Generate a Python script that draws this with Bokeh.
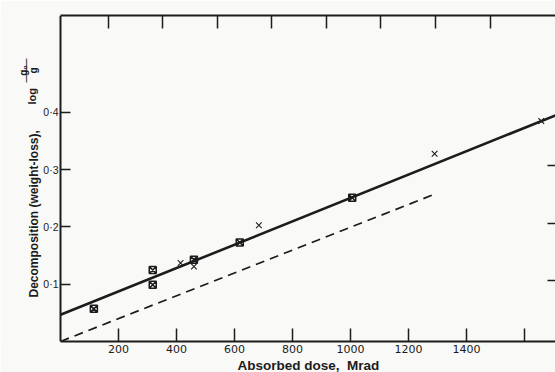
import math
from bokeh.plotting import figure
from bokeh.models import LinearAxis, FixedTicker, Label, Range1d, Title
from bokeh.embed import file_html
from bokeh.resources import INLINE

# ---- data ----
square_dose = [115, 318, 318, 460, 618, 1006]
square_decomp = [0.057, 0.125, 0.099, 0.143, 0.173, 0.251]

cross_dose = [414, 460, 684, 1290, 1658]
cross_decomp = [0.137, 0.131, 0.203, 0.328, 0.385]

solid_dose = [0, 1707]
solid_decomp = [0.0466, 0.395]

dashed_dose = [0, 1293]
dashed_decomp = [0.0, 0.258]

x_ticks = [200, 400, 600, 800, 1000, 1200, 1400]
x_unlabelled_ticks = [1600]
y_ticks = [0.1, 0.2, 0.3, 0.4]
y_tick_labels = {0.1: "0·1", 0.2: "0·2", 0.3: "0·3", 0.4: "0·4"}
top_ticks = [165, 352, 541, 728, 917, 1103, 1293, 1483]
right_ticks = [0.107, 0.206, 0.307]

X_MIN, X_MAX = -207, 1707
Y_MIN, Y_MAX = 0, 0.5694

INK = "#1c1c1c"
PAPER = "#f9f9f7"

p = figure(width=555, height=372,
           x_range=Range1d(X_MIN, X_MAX), y_range=Range1d(Y_MIN, Y_MAX),
           output_backend="svg", toolbar_location=None,
           min_border_left=0, min_border_right=0,
           min_border_top=15, min_border_bottom=31)
p.background_fill_color = PAPER
p.border_fill_color = PAPER
p.outline_line_color = None
p.xgrid.visible = False
p.ygrid.visible = False


def style_ticks(ax, tick_in):
    ax.major_tick_in = tick_in
    ax.major_tick_out = 0
    ax.minor_tick_line_color = None
    ax.major_tick_line_color = INK
    ax.major_tick_line_width = 1.5
    ax.axis_line_width = 2
    ax.axis_line_color = INK


# bottom axis
xa = p.xaxis[0]
xa.ticker = FixedTicker(ticks=x_ticks)
xa.bounds = (0, X_MAX)
style_ticks(xa, 13)
xa.major_label_standoff = 3
xa.major_label_text_font = "DejaVu Sans"
xa.major_label_text_font_size = "11px"
xa.major_label_text_color = INK

# x-axis title, centred under the drawn part of the axis
p.add_layout(Title(text="Absorbed dose,\u00a0\u00a0Mrad", align="left", offset=237,
                   standoff=0, text_font="Liberation Sans", text_font_style="bold",
                   text_font_size="13.5px", text_color=INK), "below")

# extra unlabelled bottom tick
xb = LinearAxis(ticker=FixedTicker(ticks=x_unlabelled_ticks), fixed_location=0)
style_ticks(xb, 13)
xb.axis_line_color = None
xb.major_label_text_color = None
p.add_layout(xb, "below")

# left axis, fixed at dose 0 so the title can sit in the frame to its left
ya = p.yaxis[0]
ya.ticker = FixedTicker(ticks=y_ticks)
ya.major_label_overrides = y_tick_labels
ya.fixed_location = 0
ya.bounds = (Y_MIN, Y_MAX)
style_ticks(ya, 10)
ya.major_label_standoff = 2
ya.major_label_text_font = "Liberation Sans"
ya.major_label_text_font_size = "10.5px"
ya.major_label_text_color = INK

# top axis (ticks only)
ta = LinearAxis(ticker=FixedTicker(ticks=top_ticks), bounds=(0, X_MAX))
style_ticks(ta, 13)
ta.major_label_text_color = None
ta.major_label_standoff = 0
p.add_layout(ta, "above")

# right axis (ticks only, frame edge cut off)
ra = LinearAxis(ticker=FixedTicker(ticks=right_ticks))
style_ticks(ra, 8)
ra.axis_line_color = None
ra.major_label_text_color = None
ra.major_label_standoff = 0
p.add_layout(ra, "right")

# lines
p.line(solid_dose, solid_decomp, line_color=INK, line_width=2.6)
p.line(dashed_dose, dashed_decomp, line_color=INK, line_width=1.8, line_dash="9 6")

# markers
p.scatter(square_dose, square_decomp, marker="square_x", size=7,
          line_color=INK, line_width=1.5, fill_color=None)
p.scatter(cross_dose, cross_decomp, marker="x", size=8,
          line_color=INK, line_width=1.1)


# y-axis title made of labels (with the g0/g fraction)
def px_to_x(px):
    return X_MIN + px * (X_MAX - X_MIN) / 555


def py_to_y(py):
    return (341 - py) * (Y_MAX - Y_MIN) / 326


font = "Liberation Sans"
common = dict(angle=math.pi / 2, text_font=font, text_color=INK)
p.add_layout(Label(x=px_to_x(33), y=py_to_y(297), text="Decomposition (weight-loss),",
                   text_align="left", text_baseline="alphabetic",
                   text_font_style="bold", text_font_size="12px", **common))
p.add_layout(Label(x=px_to_x(31), y=py_to_y(104), text="log",
                   text_align="left", text_baseline="alphabetic",
                   text_font_style="bold", text_font_size="11px", **common))
p.add_layout(Label(x=px_to_x(23), y=py_to_y(70), text="g₀",
                   text_align="center", text_baseline="alphabetic",
                   text_font_style="bold", text_font_size="10px", **common))
p.add_layout(Label(x=px_to_x(25.5), y=py_to_y(70), text="——",
                   text_align="center", text_baseline="middle",
                   text_font_size="12px", **common))
p.add_layout(Label(x=px_to_x(27.5), y=py_to_y(70), text="g",
                   text_align="center", text_baseline="top",
                   text_font_style="bold", text_font_size="10px", **common))

open("out.html", "w").write(file_html(p, INLINE))
